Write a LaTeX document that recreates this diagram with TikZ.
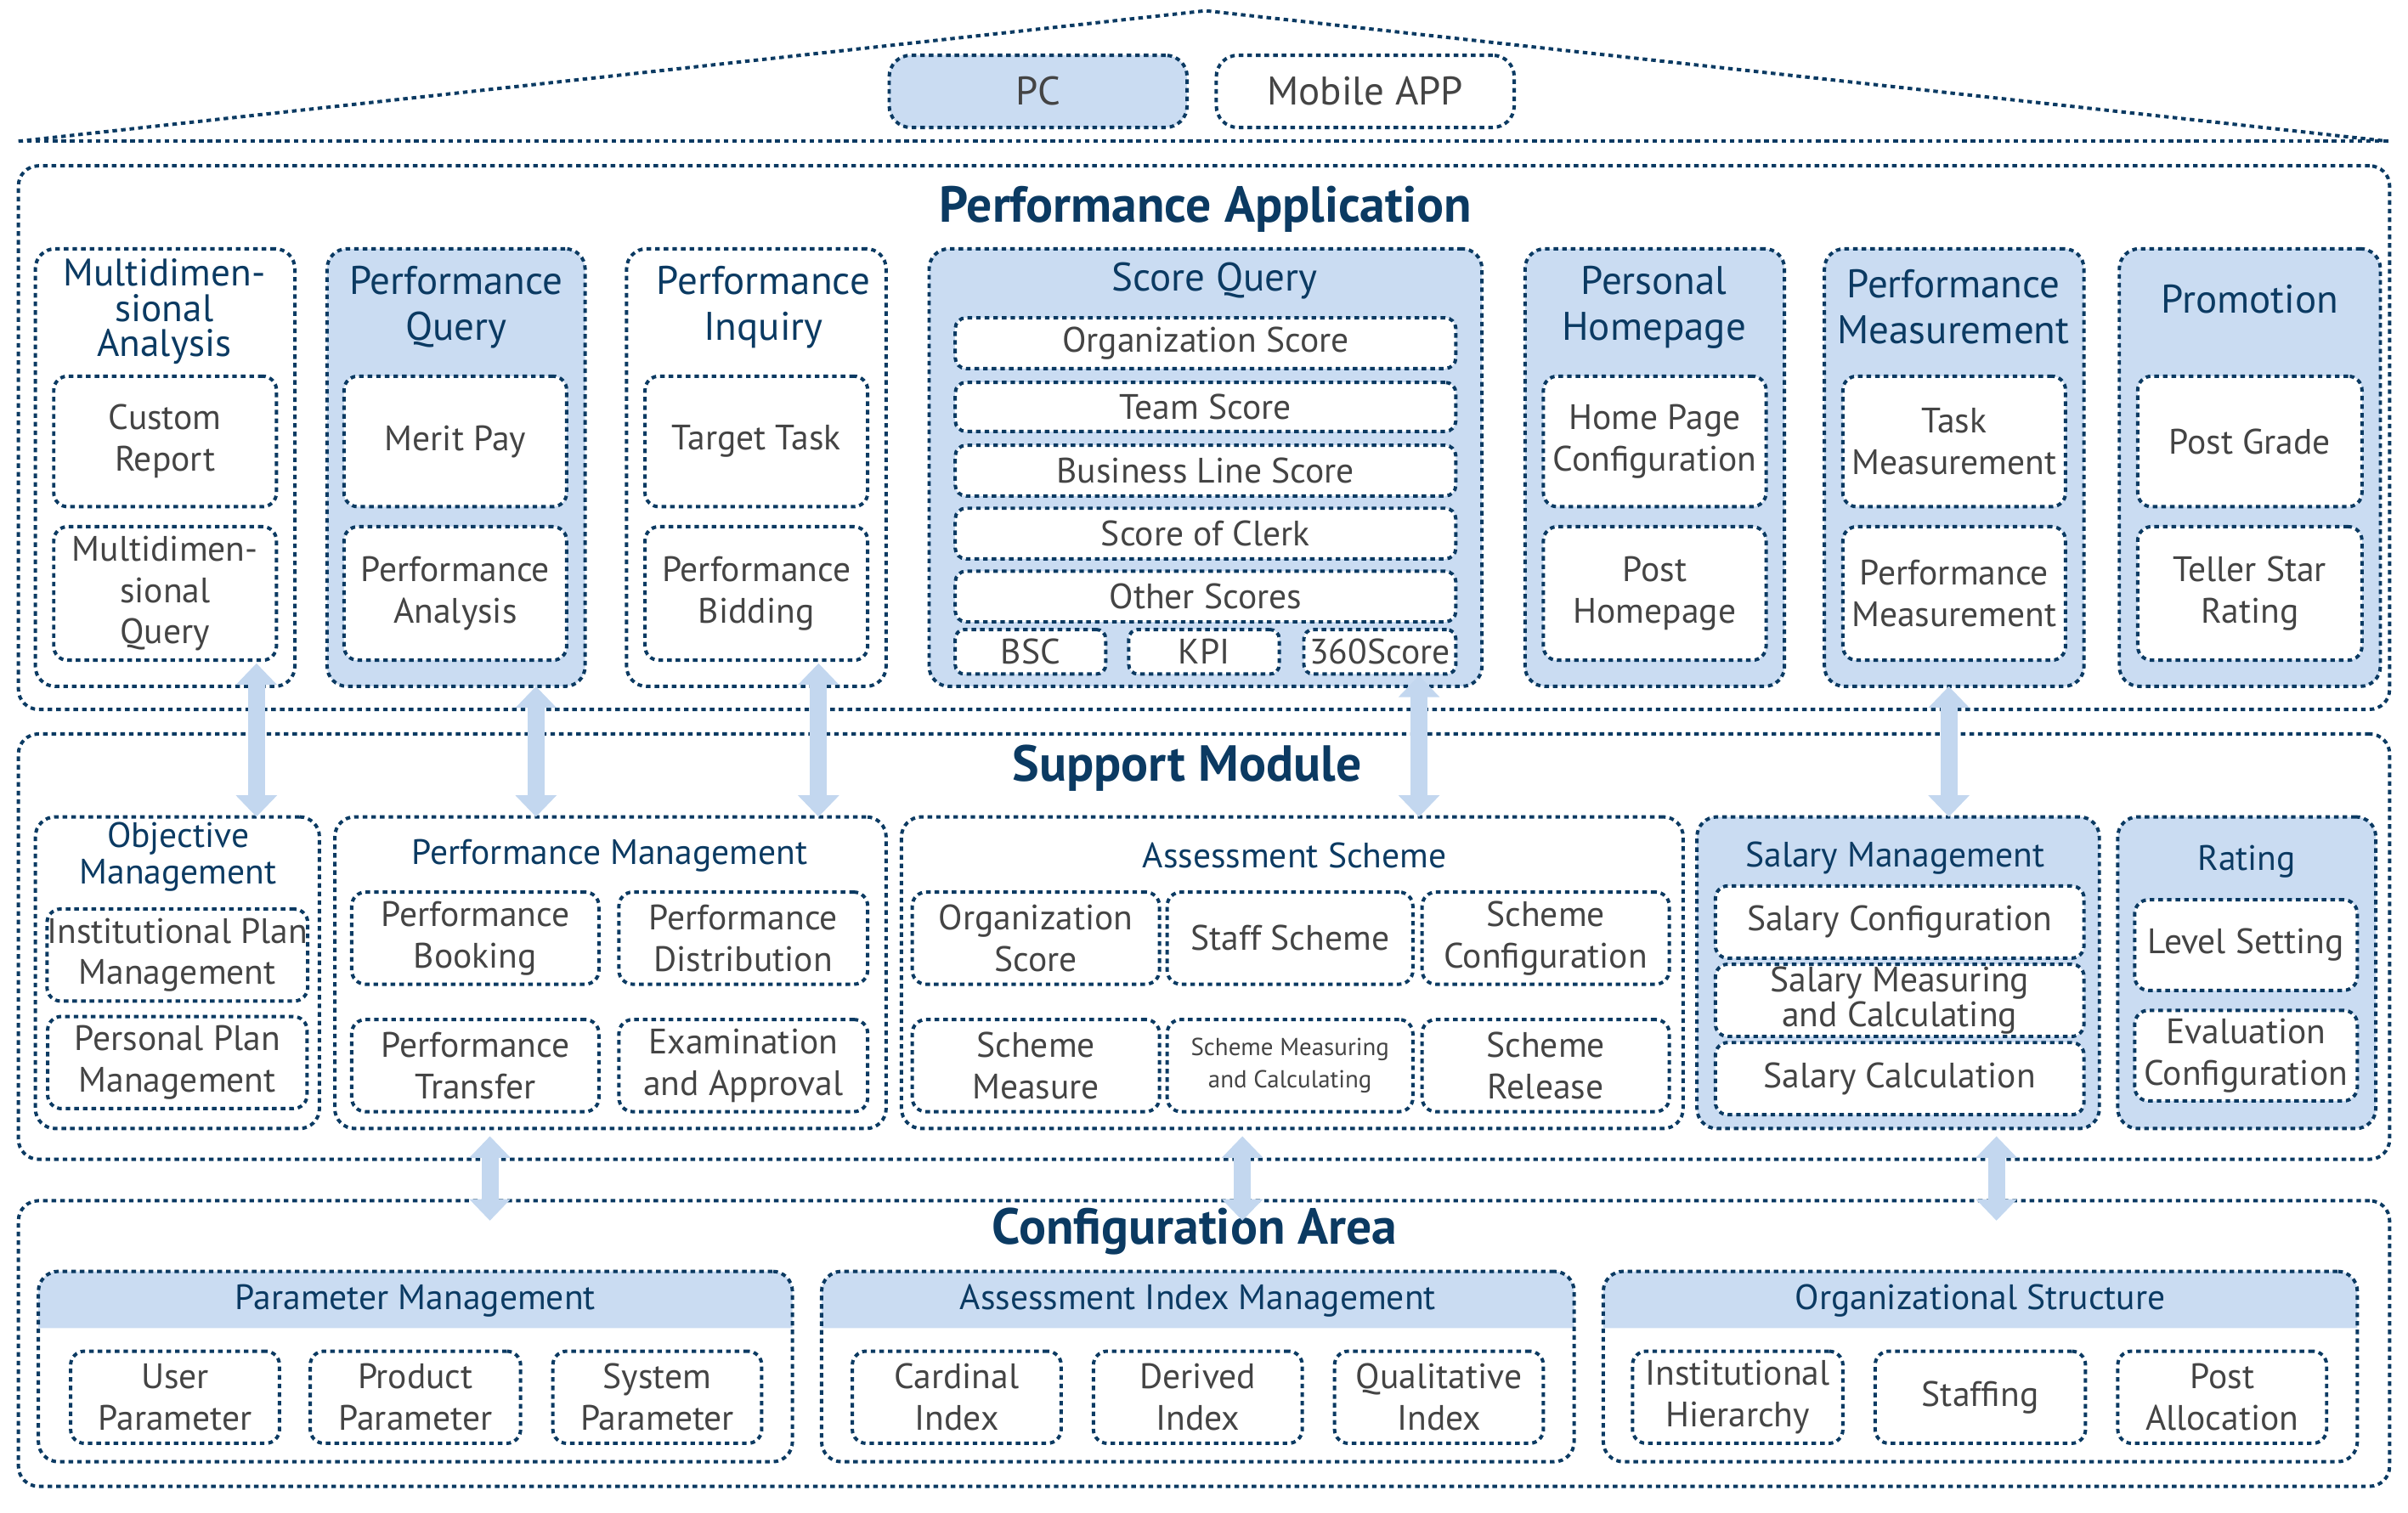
\documentclass[tikz,border=0pt]{standalone}
\usepackage{fontspec}
\setmainfont{PT Sans}
\usetikzlibrary{arrows.meta}
\definecolor{navy}{HTML}{0B3A62}
\definecolor{fillc}{HTML}{CADCF2}
\definecolor{arrc}{HTML}{C3D7EF}
\definecolor{txt}{HTML}{444444}
\tikzset{
  dot/.style={draw=navy,line width=2.2pt,dash pattern=on 3pt off 2.6pt,rounded corners=13pt},
  cont/.style={dot},
  contf/.style={dot,fill=fillc},
  inner/.style={dot,fill=white,text=txt,align=center,font=\fontsize{23}{27}\selectfont,rounded corners=9pt},
  innerS/.style={inner,font=\fontsize{16}{21}\selectfont},
  ttl/.style={text=navy,align=center,font=\fontsize{26}{24}\selectfont},
  sttl/.style={text=navy,align=center,font=\fontsize{23}{24}\selectfont},
  big/.style={text=navy,font=\bfseries\fontsize{33}{34}\selectfont},
  arr/.style={arrc,line width=11pt,{Triangle[width=26pt,length=14pt]}-{Triangle[width=26pt,length=14pt]},shorten <=0pt},
}
\newcommand\mybox[7]{\node[#1,minimum width={#5-#3},minimum height={#6-#4},inner sep=0pt] (#2) at ({(#3+#5)/2},{(#4+#6)/2}) {#7};}
\begin{document}
\begin{tikzpicture}[x=1pt,y=-1pt]
\useasboundingbox (0,0) rectangle (1568,985);
% roof
\coordinate (rl) at (12,92); \coordinate (rt) at (785,7); \coordinate (rr) at (1555,92);
\draw[dot,rounded corners=0] (rl) -- (rt) -- (rr);
\draw[dot,rounded corners=0] (rl) -- (rr);
\mybox{inner,fill=fillc,font=\fontsize{26}{28}\selectfont,rounded corners=14pt}{pc}{579}{36}{773}{83}{PC}
\mybox{inner,font=\fontsize{26}{28}\selectfont,rounded corners=14pt}{app}{792}{36}{986}{83}{Mobile APP}
% Performance Application
\mybox{cont}{pa}{12}{108}{1556}{462}{}
\node[big] at (785,136) {Performance Application};
\mybox{cont}{c1}{23}{162}{192}{447}{}
\node[ttl,font=\fontsize{25}{23}\selectfont] at (107,203) {Multidimen-\\sional\\Analysis};
\mybox{inner}{c1a}{35}{245}{180}{330}{Custom\\Report}
\mybox{inner}{c1b}{35}{343}{180}{430}{Multidimen-\\sional\\Query}
\mybox{contf}{c2}{213}{162}{381}{447}{}
\node[ttl,font=\fontsize{26}{30}\selectfont] at (297,200) {Performance\\Query};
\mybox{inner}{c2a}{224}{245}{369}{330}{Merit Pay}
\mybox{inner}{c2b}{224}{343}{369}{430}{Performance\\Analysis}
\mybox{cont}{c3}{408}{162}{577}{447}{}
\node[ttl,font=\fontsize{26}{30}\selectfont] at (497,200) {Performance\\Inquiry};
\mybox{inner}{c3a}{420}{245}{565}{330}{Target Task}
\mybox{inner}{c3b}{420}{343}{565}{430}{Performance\\Bidding}
\mybox{contf}{c4}{605}{162}{965}{447}{}
\node[ttl] at (791,183) {Score Query};
\mybox{inner,rounded corners=7pt}{s1}{622}{207}{948}{240}{Organization Score}
\mybox{inner,rounded corners=7pt}{s2}{622}{249}{948}{281}{Team Score}
\mybox{inner,rounded corners=7pt}{s3}{622}{290}{948}{323}{Business Line Score}
\mybox{inner,rounded corners=7pt}{s4}{622}{331}{948}{364}{Score of Clerk}
\mybox{inner,rounded corners=7pt}{s5}{622}{372}{948}{405}{Other Scores}
\mybox{inner,rounded corners=6pt}{s6}{622}{410}{720}{439}{BSC}
\mybox{inner,rounded corners=6pt}{s7}{735}{410}{833}{439}{KPI}
\mybox{inner,rounded corners=6pt}{s8}{849}{410}{948}{439}{360Score}
\mybox{contf}{c5}{993}{162}{1162}{447}{}
\node[ttl,font=\fontsize{26}{30}\selectfont] at (1077,200) {Personal\\Homepage};
\mybox{inner}{c5a}{1005}{245}{1150}{330}{Home Page\\Configuration}
\mybox{inner}{c5b}{1005}{343}{1150}{430}{Post\\Homepage}
\mybox{contf}{c6}{1188}{162}{1357}{447}{}
\node[ttl,font=\fontsize{26}{30}\selectfont] at (1272,200) {Performance\\Measurement};
\mybox{inner}{c6a}{1200}{245}{1345}{330}{Task\\Measurement}
\mybox{inner}{c6b}{1200}{343}{1345}{430}{Performance\\Measurement}
\mybox{contf}{c7}{1380}{162}{1550}{447}{}
\node[ttl] at (1465,195) {Promotion};
\mybox{inner}{c7a}{1392}{245}{1538}{330}{Post Grade}
\mybox{inner}{c7b}{1392}{343}{1538}{430}{Teller Star\\Rating}
% Support Module
\mybox{cont}{sm}{12}{478}{1556}{755}{}
\node[big] at (773,500) {Support Module};
\mybox{cont}{m1}{23}{532}{208}{735}{}
\node[sttl] at (116,558) {Objective\\Management};
\mybox{inner}{m1a}{31}{592}{200}{652}{Institutional Plan\\Management}
\mybox{inner}{m1b}{31}{662}{200}{722}{Personal Plan\\Management}
\mybox{cont}{m2}{218}{532}{577}{735}{}
\node[sttl] at (397,557) {Performance Management};
\mybox{inner}{m2a}{229}{581}{390}{641}{Performance\\Booking}
\mybox{inner}{m2b}{403}{581}{565}{641}{Performance\\Distribution}
\mybox{inner}{m2c}{229}{664}{390}{724}{Performance\\Transfer}
\mybox{inner}{m2d}{403}{664}{565}{724}{Examination\\and Approval}
\mybox{cont}{m3}{587}{532}{1096}{735}{}
\node[sttl] at (843,557) {Assessment Scheme};
\mybox{inner}{m3a}{594}{581}{755}{641}{Organization\\Score}
\mybox{inner}{m3b}{760}{581}{920}{641}{Staff Scheme}
\mybox{inner}{m3c}{926}{581}{1087}{641}{Scheme\\Configuration}
\mybox{inner}{m3d}{594}{664}{755}{724}{Scheme\\Measure}
\mybox{innerS}{m3e}{760}{664}{920}{724}{Scheme Measuring\\and Calculating}
\mybox{inner}{m3f}{926}{664}{1087}{724}{Scheme\\Release}
\mybox{contf}{m4}{1105}{532}{1367}{735}{}
\node[sttl] at (1234,559) {Salary Management};
\mybox{inner,rounded corners=8pt}{m4a}{1117}{577}{1357}{624}{Salary Configuration}
\mybox{inner,rounded corners=8pt,font=\fontsize{23}{21}\selectfont}{m4b}{1117}{628}{1357}{675}{Salary Measuring\\and Calculating}
\mybox{inner,rounded corners=8pt}{m4c}{1117}{679}{1357}{726}{Salary Calculation}
\mybox{contf}{m5}{1379}{532}{1547}{735}{}
\node[sttl] at (1463,561) {Rating};
\mybox{inner}{m5a}{1390}{586}{1535}{645}{Level Setting}
\mybox{inner}{m5b}{1390}{658}{1535}{717}{Evaluation\\Configuration}
% Configuration Area
\mybox{cont}{ca}{12}{782}{1556}{968}{}
\node[big] at (778,802) {Configuration Area};
\foreach \xa/\xb/\n/\t in {25/516/g1/Parameter Management,535/1025/g2/Assessment Index Management,1044/1535/g3/Organizational Structure}{
  \fill[fillc] (\xa,865) [rounded corners=13pt] -- (\xa,828) -- (\xb,828) [sharp corners] -- (\xb,865) -- cycle;
  \mybox{cont}{\n}{\xa}{828}{\xb}{952}{}
  \node[sttl] at ({(\xa+\xb)/2},847) {\t};
}
\mybox{inner}{p1}{46}{880}{182}{940}{User\\Parameter}
\mybox{inner}{p2}{202}{880}{339}{940}{Product\\Parameter}
\mybox{inner}{p3}{360}{880}{496}{940}{System\\Parameter}
\mybox{inner}{p4}{555}{880}{691}{940}{Cardinal\\Index}
\mybox{inner}{p5}{712}{880}{848}{940}{Derived\\Index}
\mybox{inner}{p6}{869}{880}{1005}{940}{Qualitative\\Index}
\mybox{inner}{p7}{1063}{880}{1200}{940}{Institutional\\Hierarchy}
\mybox{inner}{p8}{1221}{880}{1358}{940}{Staffing}
\mybox{inner}{p9}{1379}{880}{1515}{940}{Post\\Allocation}
% arrows
\foreach \i/\x/\ya/\yb in {1/167/432/532,2/349/447/532,3/533/432/532,4/924/440/532,5/1269/447/532,6/319/740/795,7/809/740/795,8/1300/740/795}{
  \coordinate (a\i) at (\x,\ya); \coordinate (b\i) at (\x,\yb);
  \draw[arr] (a\i) -- (b\i);
}
\end{tikzpicture}
\end{document}
